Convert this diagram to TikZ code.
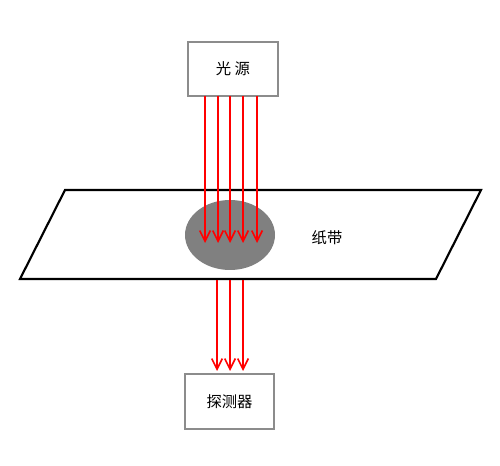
\documentclass[tikz,border=0pt]{standalone}
\usepackage{fontspec}
\newfontfamily\cjk{Noto Sans CJK SC}
\usetikzlibrary{arrows.meta,shapes.geometric}
\begin{document}
\begin{tikzpicture}[x=0.75pt,y=-0.75pt,
  boxst/.style={draw=black!45,line width=0.8pt,fill=white,font=\cjk\fontsize{11.5pt}{13pt}\selectfont},
  ray/.style={draw=red,line width=1.4pt,-{Straight Barb[length=8pt,width=8pt,line width=1.2pt]}},
  lbl/.style={font=\cjk\fontsize{11.5pt}{13pt}\selectfont}]
\useasboundingbox (0,0) rectangle (500,466);
% paper strip
\draw[line width=1.6pt,line join=miter] (65,190) -- (481,190) -- (436,279) -- (20,279) -- cycle;
\node[draw=none,fill=black!50,ellipse,minimum width=67.5pt,minimum height=52.5pt,inner sep=0] (spot) at (230,235) {};
\node[lbl] (strip) at (327,238) {纸带};
% boxes
\node[boxst,minimum width=67.5pt,minimum height=40.5pt,inner sep=0] (src) at (233,69) {光 源};
\node[boxst,minimum width=66.75pt,minimum height=41.25pt,inner sep=0] (det) at (229.5,401.5) {探测器};
% rays from source
\foreach \x [count=\i] in {205,218,230,243,257}{
  \coordinate (s\i) at (\x,96);
  \coordinate (e\i) at (\x,243);
  \draw[ray] (s\i) -- (e\i);
}
% rays to detector
\foreach \x [count=\i] in {217,230,243}{
  \coordinate (b\i) at (\x,280);
  \coordinate (d\i) at (\x,371);
  \draw[ray] (b\i) -- (d\i);
}
\end{tikzpicture}
\end{document}
